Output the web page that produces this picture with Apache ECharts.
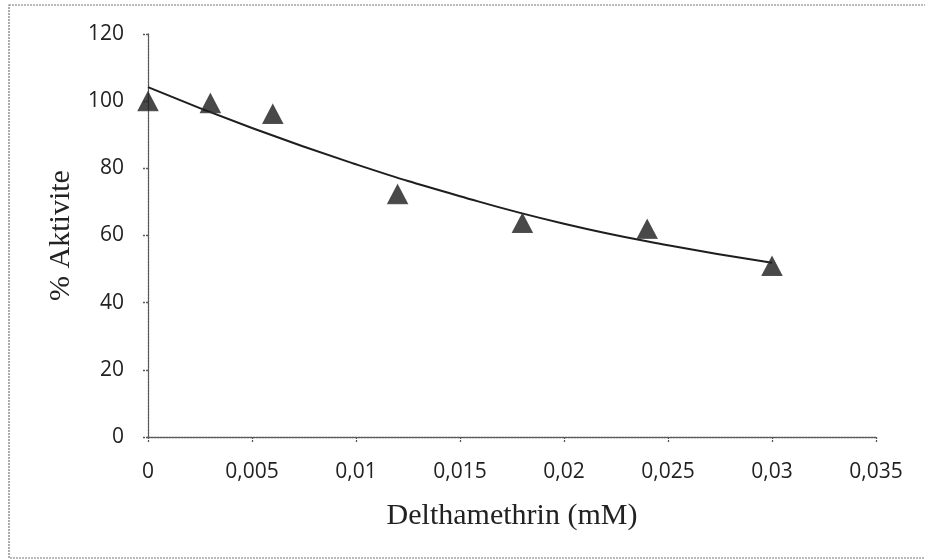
<!DOCTYPE html>
<html>
<head>
<meta charset="utf-8">
<script src="https://cdn.jsdelivr.net/npm/echarts@6/dist/echarts.min.js"></script>
<style>
  html, body { margin: 0; padding: 0; background: #fff; }
  #chart { width: 925px; height: 560px; }
</style>
</head>
<body>
<div id="chart"></div>
<script>
// Deltamethrin concentration (mM) and remaining enzyme activity (%)
const concentrations = [0, 0.003, 0.006, 0.012, 0.018, 0.024, 0.03];
const activity = [100, 99.4, 96.2, 72.3, 63.7, 61.9, 50.9];

// Trend line values
const trendX = [0, 0.005, 0.01, 0.015, 0.02, 0.025, 0.03];
const trendY = [104.2, 92.0, 81.2, 71.7, 63.5, 57.1, 51.9];

const xTitle = 'Delthamethrin (mM)';
const yTitle = '% Aktivite';

const chart = echarts.init(document.getElementById('chart'), null, { renderer: 'canvas' });

const axisLineStyle = { color: '#5a5a5a', width: 1.3, type: [2, 1] };
const tickFont = { fontFamily: 'Open Sans', fontSize: 21, color: '#222' };
const titleFont = { fontFamily: 'Liberation Serif', fontSize: 30, color: '#222' };

chart.setOption({
  animation: false,
  backgroundColor: '#ffffff',
  graphic: [{
    type: 'rect',
    shape: { x: 9, y: 5, width: 925, height: 553 },
    style: { fill: 'none', stroke: '#777', lineWidth: 1.2, lineDash: [2, 1] },
    silent: true
  }],
  grid: { left: 148, right: 49, top: 34, bottom: 123 },
  xAxis: {
    type: 'value',
    min: 0,
    max: 0.035,
    interval: 0.005,
    name: xTitle,
    nameLocation: 'middle',
    nameGap: 64,
    nameTextStyle: titleFont,
    axisLine: { show: true, onZero: false, lineStyle: axisLineStyle },
    axisTick: { show: true, length: 6, lineStyle: axisLineStyle },
    axisLabel: {
      ...tickFont,
      margin: 25,
      formatter: v => String(+v.toFixed(3)).replace('.', ',')
    },
    splitLine: { show: false }
  },
  yAxis: {
    type: 'value',
    min: 0,
    max: 120,
    interval: 20,
    name: yTitle,
    nameLocation: 'middle',
    nameGap: 72,
    nameTextStyle: titleFont,
    axisLine: { show: true, onZero: false, lineStyle: axisLineStyle },
    axisTick: { show: true, length: 6, lineStyle: axisLineStyle },
    axisLabel: { ...tickFont, margin: 24 },
    splitLine: { show: false }
  },
  series: [
    {
      name: 'trend',
      type: 'line',
      data: trendX.map((x, i) => [x, trendY[i]]),
      smooth: true,
      showSymbol: false,
      lineStyle: { color: '#1e1e1e', width: 2 },
      z: 2
    },
    {
      name: 'activity',
      type: 'scatter',
      data: concentrations.map((x, i) => [x, activity[i]]),
      symbol: 'triangle',
      symbolSize: [20, 19],
      itemStyle: { color: '#1c1c1c', borderColor: '#3a3a3a', borderWidth: 1 },
      z: 3
    }
  ]
});
</script>
</body>
</html>
